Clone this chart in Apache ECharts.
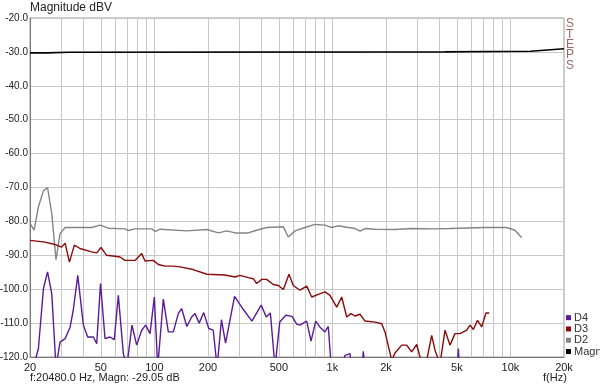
<!DOCTYPE html>
<html>
<head>
<meta charset="utf-8">
<style>
  html, body { margin: 0; padding: 0; background: #fff; }
  #main { width: 600px; height: 388px; }
</style>
<script src="https://cdn.jsdelivr.net/npm/echarts@6/dist/echarts.min.js"></script>
</head>
<body>
<div id="main"></div>
<script>
// 频率网格线 / 刻度标签
var gridFreqs = [30, 40, 50, 60, 70, 80, 90, 100, 200, 300, 400, 500, 600, 700, 800, 900,
    1000, 2000, 3000, 4000, 5000, 6000, 7000, 8000, 9000, 10000];
var labelFreqs = [20, 50, 100, 200, 500, 1000, 2000, 5000, 10000, 20000];
var yTicks = [-120, -110, -100, -90, -80, -70, -60, -50, -40, -30, -20];

// Magn
var magnFreq = [20, 25, 25.2, 33, 33.3, 4280, 4300, 13000, 20000];
var magnVal = [-30.3, -30.3, -30.1, -30.1, -30.0, -30.0, -29.8, -29.8, -29.05];

// D2
var d2Freq = [20, 21.1, 22.3, 23.8, 25.1, 26.5, 28.0, 29.5, 31.5, 44.4, 49.5, 55.1, 68.4, 71.3, 77.8,
    96.6, 100.8, 107.5, 152, 197, 229, 255, 284, 337, 375, 427, 530, 565, 617, 701, 798, 908, 991,
    1079, 1228, 1339, 1429, 1524, 1735, 2246, 2788, 3770, 4577, 7198, 9528, 10610, 11570];
var d2Val = [-80.6, -82.6, -75.7, -71.0, -70.0, -77.7, -91.3, -83.6, -81.8, -81.8, -81.1, -82.0, -82.2, -82.7, -82.2,
    -82.2, -83.0, -82.3, -82.8, -82.4, -83.4, -82.8, -83.4, -83.4, -82.6, -81.8, -81.6, -84.6, -82.8, -81.8, -80.9, -81.1, -81.8,
    -81.3, -81.8, -82.1, -82.9, -82.1, -82.3, -82.4, -82.1, -82.2, -82.1, -81.8, -81.8, -82.6, -84.8];

// D3
var d3Freq = [20, 24.3, 27.6, 30.1, 31.5, 33.3, 35.5, 38.2, 44.4, 47.4, 50.1, 53.9, 60.1, 64.1, 68.4, 77.8,
    84.8, 88.5, 98.6, 105.2, 114.7, 127.7, 139.2, 165, 197, 249, 284, 303, 337, 359, 375, 401, 427, 465,
    497, 530, 570, 603, 657, 717, 765, 833, 908, 969, 1057, 1128, 1203, 1272, 1339, 1429, 1524, 1735,
    1892, 1974, 2154, 2246, 2450, 2614, 2788, 2976, 3175, 3356, 3612, 3770, 4022, 4292, 4577, 4882,
    5208, 5682, 5928, 6188, 6533, 6898, 7292, 7610];
var d3Val = [-85.6, -86.1, -86.8, -87.6, -86.4, -92.0, -87.0, -88.0, -89.0, -89.3, -87.7, -90.0, -90.3, -90.5, -91.5, -91.5,
    -89.5, -91.7, -91.5, -92.7, -93.2, -93.2, -93.4, -94.2, -95.6, -95.8, -96.4, -95.9, -96.6, -96.9, -98.3, -97.1, -97.1, -98.6,
    -98.9, -100.1, -95.6, -98.9, -100.3, -99.1, -102.3, -101.5, -100.8, -101.8, -105.3, -102.3, -108.2, -107.2, -107.9, -107.4, -109.4, -109.7,
    -110.2, -112.6, -121, -118.8, -116.5, -116.5, -118.5, -116.3, -122, -122, -113.6, -118, -122, -112.1, -116.5, -113.1,
    -113.1, -112.1, -110.6, -111.9, -109.2, -111.1, -107.0, -107.0];

// D4
var d4Freq = [20.9, 22.3, 23.8, 25.1, 26.5, 28.0, 29.5, 31.5, 33.6, 35.0, 37.1, 39.9, 42.2, 45.4, 47.4, 49.8,
    52.8, 56.3, 59.5, 62.7, 66.9, 69.9, 74.8, 79.5, 84.8, 89.3, 94.5, 99.9, 104.4, 112.2, 119.7, 127.7,
    136.2, 142.3, 152, 162, 169, 178.5, 189.2, 202, 214, 225, 238, 251, 282, 316, 353, 398, 425, 448,
    476, 506, 547, 593, 630, 657, 717, 758, 806, 852, 908, 948, 991, 1103, 1177, 1256, 1290, 1466,
    1490, 1540, 5010, 5100, 5180];
var d4Val = [-123, -117.5, -99.8, -94.9, -101.3, -123, -115.6, -114.6, -111.2, -106.2, -95.9, -110.6, -114.1, -114.1, -116.1, -98.3,
    -114.6, -114.1, -114.9, -101.8, -119.0, -123, -110.6, -116.5, -112.1, -110.6, -113.1, -102.3, -123, -102.9, -112.6, -112.6,
    -107.2, -105.7, -111, -108.2, -107.2, -110.0, -106.9, -111.6, -112.1, -123, -109.0, -115.9, -102.1, -106.0, -109.4, -104.7, -108.2, -107.0,
    -123, -109.7, -107.7, -108.0, -110.3, -110.6, -109.4, -115.3, -109.4, -111.2, -112.6, -111.0, -125, -125, -119.5, -119.0, -125, -125,
    -118.3, -125, -125, -117.5, -125];

function zip(fs, vs) {
    var out = [];
    for (var i = 0; i < fs.length; i++) {
        out.push([fs[i], vs[i]]);
    }
    return out;
}

var fontFamily = '"Liberation Sans", Arial, sans-serif';

var myChart = echarts.init(document.getElementById('main'), null, {renderer: 'canvas'});
var option = {
    animation: false,
    backgroundColor: '#ffffff',
    textStyle: {fontFamily: fontFamily},
    grid: {
        left: 30,
        top: 18,
        right: 36,
        bottom: 31,
        outerBoundsMode: 'none',
        containLabel: false,
        show: true,
        borderColor: '#9a9a9a',
        borderWidth: 1
    },
    legend: {
        orient: 'vertical',
        left: 566,
        top: 312,
        icon: 'rect',
        itemWidth: 5,
        itemHeight: 5,
        itemGap: 0,
        padding: 0,
        data: ['D4', 'D3', 'D2', 'Magn'],
        textStyle: {fontFamily: fontFamily, fontSize: 11, color: '#333', lineHeight: 11.3, padding: [0, 0, 0, -2]}
    },
    xAxis: {
        type: 'log',
        logBase: 10,
        min: 20,
        max: 20000,
        axisLine: {lineStyle: {color: '#7a7a7a'}},
        axisTick: {show: false, customValues: gridFreqs},
        axisLabel: {
            customValues: labelFreqs,
            hideOverlap: false,
            color: '#222',
            fontSize: 11,
            fontFamily: fontFamily,
            margin: 5,
            formatter: function (v) {
                return v >= 1000 ? (v / 1000) + 'k' : String(v);
            }
        },
        splitLine: {show: true, lineStyle: {color: '#c8c8c8', width: 1}}
    },
    yAxis: {
        type: 'value',
        min: -120,
        max: -20,
        interval: 10,
        axisLine: {show: true, lineStyle: {color: '#7a7a7a'}},
        axisTick: {show: false},
        axisLabel: {
            color: '#222',
            fontSize: 10,
            fontFamily: fontFamily,
            margin: 2,
            formatter: function (v) {
                return yTicks.indexOf(v) >= 0 ? v.toFixed(1) : '';
            }
        },
        splitLine: {show: true, lineStyle: {color: '#c8c8c8', width: 1}}
    },
    graphic: [
        {type: 'text', left: 30, top: 2, style: {text: 'Magnitude dBV', font: '12px ' + fontFamily, fill: '#222'}},
        {type: 'text', left: 566, top: 18, style: {text: 'S\nT\nE\nP\nS', font: '12px ' + fontFamily, fill: '#a06868', lineHeight: 10.3}},
        {type: 'text', left: 30, top: 372, style: {text: 'f:20480.0 Hz, Magn: -29.05 dB', font: '11px ' + fontFamily, fill: '#222'}},
        {type: 'text', left: 543, top: 372, style: {text: 'f(Hz)', font: '11px ' + fontFamily, fill: '#222'}}
    ],
    series: [
        {
            name: 'Magn', type: 'line', data: zip(magnFreq, magnVal), showSymbol: false,
            lineStyle: {color: '#000000', width: 1.6}, itemStyle: {color: '#000000'}
        },
        {
            name: 'D2', type: 'line', data: zip(d2Freq, d2Val), showSymbol: false,
            lineStyle: {color: '#858585', width: 1.4}, itemStyle: {color: '#858585'}
        },
        {
            name: 'D3', type: 'line', data: zip(d3Freq, d3Val), showSymbol: false,
            lineStyle: {color: '#8b0a0a', width: 1.4}, itemStyle: {color: '#8b0a0a'}
        },
        {
            name: 'D4', type: 'line', data: zip(d4Freq, d4Val), showSymbol: false,
            lineStyle: {color: '#5a1a9a', width: 1.4}, itemStyle: {color: '#5a1a9a'}
        }
    ]
};
myChart.setOption(option);
</script>
</body>
</html>
